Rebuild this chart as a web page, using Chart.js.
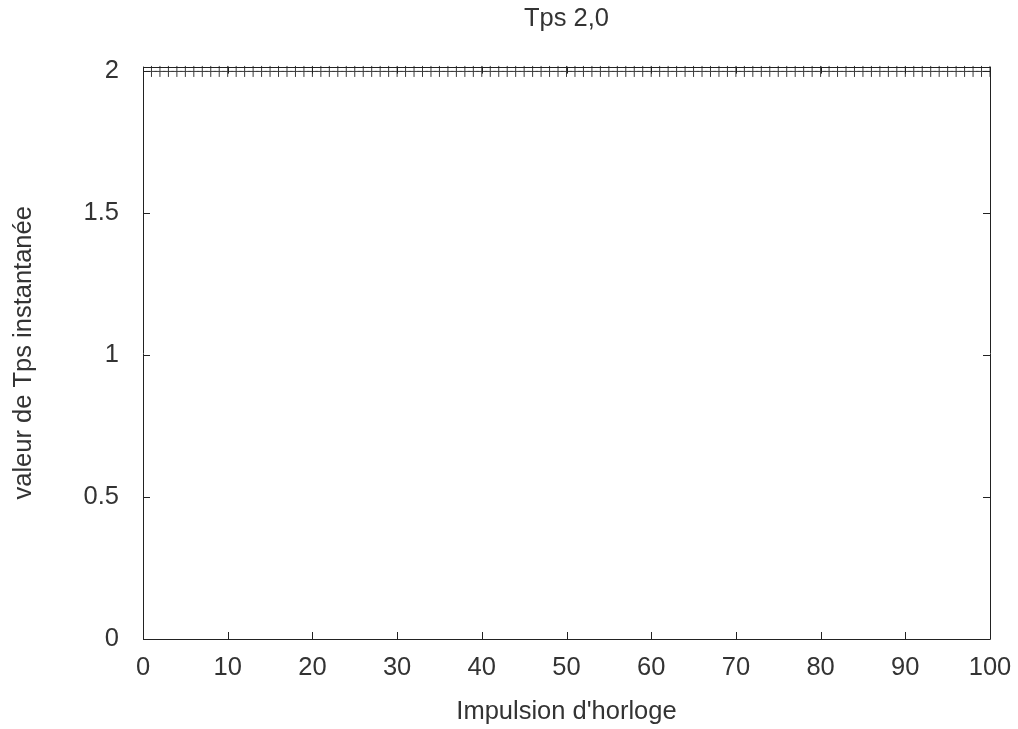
<!DOCTYPE html>
<html lang="fr">

<head>
    <meta charset="UTF-8">
    <title>Tps 2,0</title>
    <script src="https://cdn.jsdelivr.net/npm/chart.js"></script>
    <style>
        body { margin: 0; background: #fff; }
        #wrap { width: 1018px; height: 729px; }
    </style>
</head>

<body>
    <div id="wrap">
        <canvas id="tpsChart" width="1018" height="729"></canvas>
    </div>

    <script>
        // Impulsions d'horloge (axe x)
        const pulses = [
            1, 2, 3, 4, 5, 6, 7, 8, 9, 10,
            11, 12, 13, 14, 15, 16, 17, 18, 19, 20,
            21, 22, 23, 24, 25, 26, 27, 28, 29, 30,
            31, 32, 33, 34, 35, 36, 37, 38, 39, 40,
            41, 42, 43, 44, 45, 46, 47, 48, 49, 50,
            51, 52, 53, 54, 55, 56, 57, 58, 59, 60,
            61, 62, 63, 64, 65, 66, 67, 68, 69, 70,
            71, 72, 73, 74, 75, 76, 77, 78, 79, 80,
            81, 82, 83, 84, 85, 86, 87, 88, 89, 90,
            91, 92, 93, 94, 95, 96, 97, 98, 99, 100
        ];
        // valeur de Tps instantanée
        const tpsValues = [
            2, 2, 2, 2, 2, 2, 2, 2, 2, 2,
            2, 2, 2, 2, 2, 2, 2, 2, 2, 2,
            2, 2, 2, 2, 2, 2, 2, 2, 2, 2,
            2, 2, 2, 2, 2, 2, 2, 2, 2, 2,
            2, 2, 2, 2, 2, 2, 2, 2, 2, 2,
            2, 2, 2, 2, 2, 2, 2, 2, 2, 2,
            2, 2, 2, 2, 2, 2, 2, 2, 2, 2,
            2, 2, 2, 2, 2, 2, 2, 2, 2, 2,
            2, 2, 2, 2, 2, 2, 2, 2, 2, 2,
            2, 2, 2, 2, 2, 2, 2, 2, 2, 2
        ];
        const xTicks = [0, 10, 20, 30, 40, 50, 60, 70, 80, 90, 100];
        const yTicks = [0, 0.5, 1, 1.5, 2];

        const textColor = '#333';
        const lineColor = '#222';
        const fontFamily = "'Liberation Sans', Arial, sans-serif";
        const fontSize = 25.5;

        // gnuplot-like frame with inward (mirrored) ticks
        const framePlugin = {
            id: 'frame',
            afterDatasetsDraw(chart) {
                const { ctx, chartArea: a, scales: { x, y } } = chart;
                const len = 7;
                ctx.save();
                ctx.strokeStyle = lineColor;
                ctx.lineWidth = 1;
                ctx.beginPath();
                ctx.rect(Math.round(a.left) + 0.5, Math.round(a.top) + 0.5,
                    Math.round(a.right - a.left), Math.round(a.bottom - a.top));
                xTicks.forEach(v => {
                    const px = Math.round(x.getPixelForValue(v)) + 0.5;
                    ctx.moveTo(px, a.bottom);
                    ctx.lineTo(px, a.bottom - len);
                    ctx.moveTo(px, a.top);
                    ctx.lineTo(px, a.top + len);
                });
                yTicks.forEach(v => {
                    const py = Math.round(y.getPixelForValue(v)) + 0.5;
                    ctx.moveTo(a.left, py);
                    ctx.lineTo(a.left + len, py);
                    ctx.moveTo(a.right, py);
                    ctx.lineTo(a.right - len, py);
                });
                ctx.stroke();
                ctx.restore();
            }
        };

        new Chart(document.getElementById('tpsChart'), {
            type: 'scatter',
            data: {
                datasets: [{
                    label: 'Tps',
                    data: pulses.map((p, i) => ({ x: p, y: tpsValues[i] })),
                    pointStyle: 'cross',
                    pointRadius: 5.5,
                    pointBorderWidth: 1,
                    borderColor: '#3a3a3a',
                    backgroundColor: '#3a3a3a',
                    showLine: false,
                    clip: { left: 8, top: 8, right: 0, bottom: 0 }
                }]
            },
            options: {
                responsive: false,
                animation: false,
                layout: { padding: { left: 0, right: 28, top: 0, bottom: 0 } },
                plugins: {
                    legend: { display: false },
                    tooltip: { enabled: false },
                    title: {
                        display: true,
                        text: 'Tps 2,0',
                        fullSize: false,
                        color: textColor,
                        font: { family: fontFamily, size: fontSize, weight: 'normal' },
                        padding: { top: 4, bottom: 32 }
                    }
                },
                scales: {
                    x: {
                        type: 'linear',
                        min: 0,
                        max: 100,
                        grid: { display: false, drawTicks: false },
                        border: { display: false },
                        afterBuildTicks: s => { s.ticks = xTicks.map(v => ({ value: v })); },
                        afterFit: s => {
                            s.height = 90;
                            s.paddingLeft = 0;
                            s.paddingRight = 0;
                        },
                        ticks: {
                            color: textColor,
                            font: { family: fontFamily, size: fontSize },
                            padding: 14,
                            maxRotation: 0
                        },
                        title: {
                            display: true,
                            text: "Impulsion d'horloge",
                            color: textColor,
                            font: { family: fontFamily, size: fontSize },
                            padding: { top: 0, bottom: 2 }
                        }
                    },
                    y: {
                        min: 0,
                        max: 2.017,
                        grid: { display: false, drawTicks: false },
                        border: { display: false },
                        afterBuildTicks: s => { s.ticks = yTicks.map(v => ({ value: v })); },
                        afterFit: s => {
                            s.width = 143;
                            s.paddingTop = 0;
                            s.paddingBottom = 0;
                        },
                        ticks: {
                            color: textColor,
                            font: { family: fontFamily, size: fontSize },
                            padding: 24,
                            callback: v => String(v)
                        },
                        title: {
                            display: true,
                            text: 'valeur de Tps instantanée',
                            color: textColor,
                            font: { family: fontFamily, size: fontSize },
                            padding: { top: 9, bottom: 0 }
                        }
                    }
                }
            },
            plugins: [framePlugin]
        });
    </script>
</body>

</html>
